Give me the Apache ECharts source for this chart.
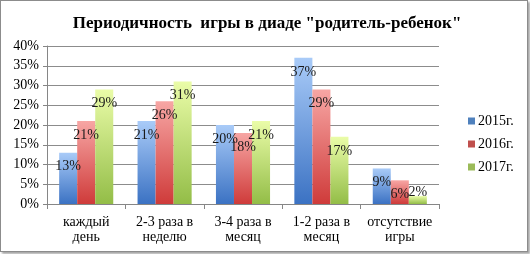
<!DOCTYPE html>
<html>
<head>
<meta charset="utf-8">
<script src="https://cdn.jsdelivr.net/npm/echarts@6/dist/echarts.min.js"></script>
<style>
    html, body { margin: 0; padding: 0; background: #fff; }
    .frame {
        position: absolute;
        left: 0; top: 0;
        width: 526px; height: 250px;
        border: 1px solid #8c8c8c;
        box-shadow: 2px 2px 2px rgba(0, 0, 0, 0.35);
        background: #fff;
    }
    #chart { position: absolute; left: 0; top: 0; width: 530px; height: 254px; }
</style>
</head>
<body>
<div class="frame"></div>
<div id="chart"></div>
<script>
// Периодичность игры в диаде "родитель-ребенок"
const categories = ['каждый\nдень', '2-3 раза в\nнеделю', '3-4 раза в\nмесяц', '1-2 раза в\nмесяц', 'отсутствие\nигры'];
const seriesNames = ['2015г.', '2016г.', '2017г.'];
const values2015 = [13, 21, 20, 37, 9];
const values2016 = [21, 26, 18, 29, 6];
const values2017 = [29, 31, 21, 17, 2];
const yTicks = [0, 5, 10, 15, 20, 25, 30, 35, 40];

const serif = '"Liberation Serif", "DejaVu Serif", serif';

// градиенты как в Excel
const gradients = [
    ['#a9cbf8', '#3b72c3'],
    ['#f7a6a4', '#cf3b3a'],
    ['#eafca8', '#93bd47']
];
const legendColors = ['#4f81bd', '#c0504d', '#9bbb59'];

function grad(pair) {
    return new echarts.graphic.LinearGradient(0, 0, 0, 1, [
        { offset: 0, color: pair[0] },
        { offset: 1, color: pair[1] }
    ]);
}

function makeSeries(name, values, idx) {
    return {
        name: name,
        type: 'bar',
        barGap: 0,
        barCategoryGap: '31%',
        itemStyle: { color: grad(gradients[idx]) },
        label: {
            show: true,
            position: 'insideTop',
            distance: 7,
            formatter: '{c}%',
            fontFamily: serif,
            fontSize: 14,
            color: '#1a1a1a'
        },
        data: values.map(v => v <= 3
            ? { value: v, label: { position: 'top', distance: -3 } }
            : v)
    };
}

const chart = echarts.init(document.getElementById('chart'), null, { renderer: 'canvas' });

chart.setOption({
    animation: false,
    title: {
        text: 'Периодичность  игры в диаде "родитель-ребенок"',
        left: 262,
        textAlign: 'center',
        top: 10,
        textStyle: { fontFamily: serif, fontWeight: 'bold', fontSize: 17, color: '#000' }
    },
    legend: {
        orient: 'vertical',
        left: 463,
        top: 109,
        itemWidth: 7,
        itemHeight: 7,
        itemGap: 9,
        icon: 'rect',
        data: seriesNames.map((n, i) => ({ name: n, itemStyle: { color: legendColors[i] } })),
        textStyle: { fontFamily: serif, fontSize: 14, color: '#000', padding: [0, 0, 0, -2] }
    },
    grid: { left: 47, right: 91, top: 46, bottom: 50 },
    xAxis: {
        type: 'category',
        data: categories,
        axisLine: { lineStyle: { color: '#868686', width: 1 } },
        axisTick: { show: true, length: 5, lineStyle: { color: '#868686' } },
        axisLabel: {
            fontFamily: serif, fontSize: 14, color: '#000',
            lineHeight: 15, margin: 11, interval: 0
        }
    },
    yAxis: {
        type: 'value',
        min: yTicks[0],
        max: yTicks[yTicks.length - 1],
        interval: 5,
        axisLine: { show: true, lineStyle: { color: '#868686', width: 1 } },
        axisTick: { show: true, length: 4, lineStyle: { color: '#868686' } },
        axisLabel: { formatter: '{value}%', fontFamily: serif, fontSize: 14, color: '#000', margin: 8 },
        splitLine: { lineStyle: { color: '#8c8c8c', width: 1 } }
    },
    series: [
        makeSeries(seriesNames[0], values2015, 0),
        makeSeries(seriesNames[1], values2016, 1),
        makeSeries(seriesNames[2], values2017, 2)
    ]
});
</script>
</body>
</html>
